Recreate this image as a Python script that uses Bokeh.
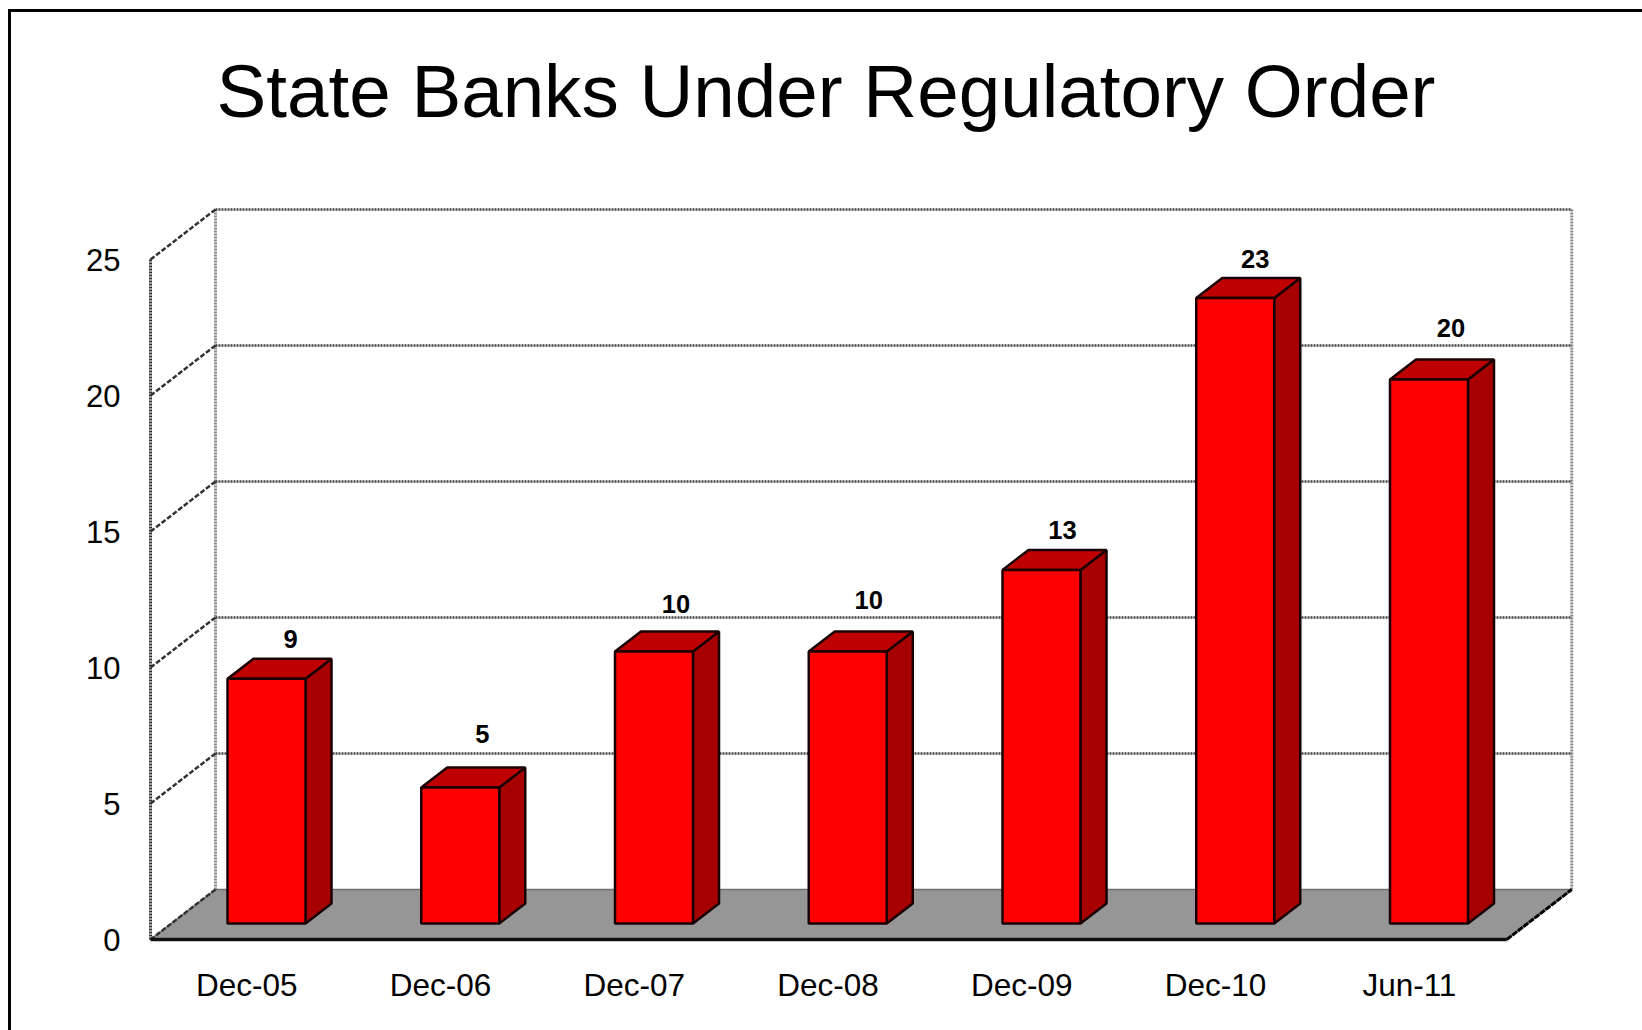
from bokeh.plotting import figure
from bokeh.embed import file_html
from bokeh.resources import INLINE
from bokeh.models import FixedTicker, Range1d, ColumnDataSource
from bokeh.core.properties import value

# ---------- data ----------
categories = ["Dec-05", "Dec-06", "Dec-07", "Dec-08", "Dec-09", "Dec-10", "Jun-11"]
banks = [9, 5, 10, 10, 13, 23, 20]
y_ticks = [0, 5, 10, 15, 20, 25]
chart_title = "State Banks Under Regulatory Order"

# ---------- layout (pixels of the picture) ----------
FONT = "Liberation Sans"
PX_CAT = 193.75            # px per category on the front plane
PX_UNIT = 27.2             # px per value unit
FRONT_X0, FRONT_Y0 = 150, 939
MARGIN_L, MARGIN_T, BORDER = 8, 9, 3
CANVAS_X0, CANVAS_Y0 = MARGIN_L + BORDER, MARGIN_T + BORDER
PAGE_W, PAGE_H = 1642, 1030
FRAME_L, FRAME_R, FRAME_T, FRAME_B = 144, 1580, 14, 945
TITLE_X, TITLE_Y = 216, 90

DX = 65 / PX_CAT           # depth of the chart box
DY = 50 / PX_UNIT
BAR_L = 77 / PX_CAT
BAR_W = 78 / PX_CAT
BAR_BASE = 16 / PX_UNIT
BAR_DX = 26 / PX_CAT
BAR_DY = 20 / PX_UNIT
N = len(categories)
label_dy_px = [40, 54, 48, 52, 40, 39, 52]
label_dx_px = [24, 22, 22, 21, 21, 20, 22]

p = figure(
    width=PAGE_W - CANVAS_X0, height=PAGE_H - CANVAS_Y0,
    frame_width=FRAME_R - FRAME_L, frame_height=FRAME_B - FRAME_T,
    output_backend="svg", toolbar_location=None,
    x_range=Range1d((FRAME_L - FRONT_X0) / PX_CAT, (FRAME_R - FRONT_X0) / PX_CAT),
    y_range=Range1d((FRONT_Y0 - FRAME_B) / PX_UNIT, (FRONT_Y0 - FRAME_T) / PX_UNIT),
    min_border_left=FRAME_L - CANVAS_X0, min_border_right=PAGE_W - FRAME_R,
    min_border_top=FRAME_T - CANVAS_Y0, min_border_bottom=PAGE_H - FRAME_B,
    background_fill_color="white", border_fill_color="white",
    outline_line_color=None,
)
p.grid.visible = False
p.margin = (MARGIN_T, 0, 0, MARGIN_L)
p.styles = {"border-left": f"{BORDER}px solid black", "border-top": f"{BORDER}px solid black"}

# title
p.text(x=[(TITLE_X - FRONT_X0) / PX_CAT], y=[(FRONT_Y0 - TITLE_Y) / PX_UNIT],
       text=[chart_title], text_font=value(FONT), text_font_size="74.6px",
       text_color="black", text_align="left", text_baseline="alphabetic")

# axes
ax = p.yaxis[0]
ax.ticker = FixedTicker(ticks=y_ticks)
ax.axis_line_color = None
ax.major_tick_line_color = None
ax.minor_tick_line_color = None
ax.major_tick_out = 0
ax.major_label_standoff = 24
ax.major_label_text_font = FONT
ax.major_label_text_font_size = "31px"
ax.major_label_text_color = "black"

x_ticks = [i + 0.5 - 0.5 / PX_CAT for i in range(N)]
ax = p.xaxis[0]
ax.ticker = FixedTicker(ticks=x_ticks)
ax.major_label_overrides = dict(zip(x_ticks, categories))
ax.axis_line_color = None
ax.major_tick_line_color = None
ax.minor_tick_line_color = None
ax.major_tick_out = 0
ax.major_label_standoff = 21
ax.major_label_text_font = FONT
ax.major_label_text_font_size = "31.5px"
ax.major_label_text_color = "black"

top = y_ticks[-1]
# floor
p.patch([0, N, N + DX, DX], [0, 0, DY, DY], fill_color="#969696",
        line_color="#707070", line_width=1.5)
# walls
p.segment([DX, N + DX], [DY, DY], [DX, N + DX], [top + DY, top + DY],
          line_color="#8a8a8a", line_width=3, line_dash="2 1")
p.segment([0], [0], [0], [top], line_color="#333333", line_width=3, line_dash="2 1")
# gridlines on back wall and on side wall
grid = y_ticks[1:]
p.segment([DX] * len(grid), [t + DY for t in grid], [N + DX] * len(grid), [t + DY for t in grid],
          line_color="#444444", line_width=2.5, line_dash="2 1")
p.segment([0] * len(y_ticks), y_ticks, [DX] * len(y_ticks), [t + DY for t in y_ticks],
          line_color="#333333", line_width=2.5, line_dash="5 2")
# floor edges
p.segment([N], [0], [N + DX], [DY], line_color="black", line_width=3, line_dash="6 1")
p.segment([0], [0], [N], [0], line_color="#111111", line_width=3.5)

# bars
for i, v in enumerate(banks):
    l = i + BAR_L
    r = l + BAR_W
    b = BAR_BASE
    t = v + BAR_BASE
    p.patch([r, r + BAR_DX, r + BAR_DX, r], [b, b + BAR_DY, t + BAR_DY, t],
            fill_color="#A60000", line_color="#1a0000", line_width=2.5)
    p.patch([l, r, r + BAR_DX, l + BAR_DX], [t, t, t + BAR_DY, t + BAR_DY],
            fill_color="#BF0000", line_color="#1a0000", line_width=2.5)
    p.quad(left=[l], right=[r], bottom=[b], top=[t],
           fill_color="#FF0000", line_color="#1a0000", line_width=2.5)

# value labels
src = ColumnDataSource(dict(
    x=[i + BAR_L + BAR_W / 2 + d / PX_CAT for i, d in enumerate(label_dx_px)],
    y=[v + BAR_BASE + d / PX_UNIT for v, d in zip(banks, label_dy_px)],
    t=[str(v) for v in banks],
))
p.text(x="x", y="y", text="t", source=src, text_font=value(FONT), text_font_size="25.5px",
       text_font_style="bold", text_color="black", text_align="center", text_baseline="middle")

open("out.html", "w").write(file_html(p, INLINE))
